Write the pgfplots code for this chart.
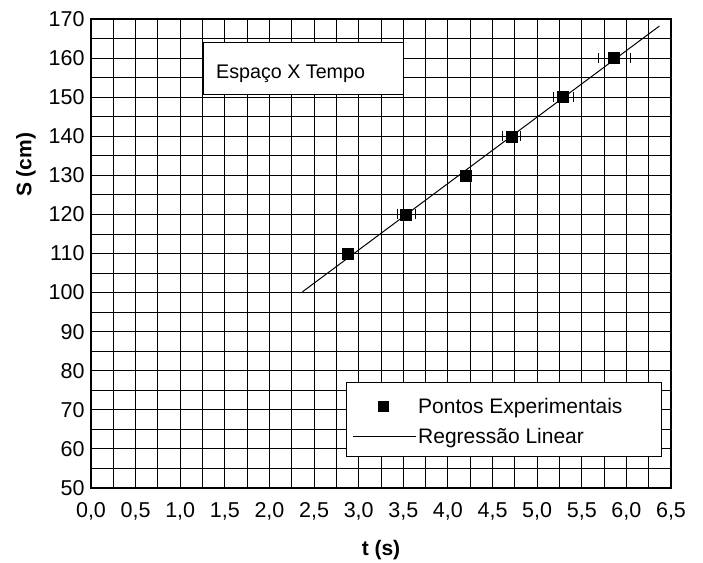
\documentclass[border=0pt]{standalone}
\usepackage{pgfplots}
\pgfplotsset{compat=1.18}
\usepackage{fontspec}
\setmainfont{Liberation Sans}
\begin{document}
\begin{tikzpicture}
\begin{axis}[
  scale only axis, width=580pt, height=469pt,
  xmin=0, xmax=6.5, ymin=50, ymax=170,
  xtick={0,0.5,...,6.5}, ytick={50,60,...,170},
  minor x tick num=1, minor y tick num=1,
  grid=both,
  major grid style={black, line width=0.9pt},
  minor grid style={black, line width=0.9pt},
  axis line style={line width=1.5pt},
  tick pos=left, tick align=inside,
  major tick length=8pt, minor tick length=0pt,
  tick style={black, line width=1pt},
  xticklabel={\fontsize{21.5}{25}\selectfont\pgfmathprintnumber[assume math mode=true,fixed,fixed zerofill,precision=1,use comma]{\tick}},
  yticklabel={\fontsize{21.5}{25}\selectfont\pgfmathprintnumber[assume math mode=true,fixed,precision=0]{\tick}},
  xticklabel style={yshift=-11pt},
  yticklabel style={xshift=-3pt},
  xlabel={\textbf{t (s)}}, ylabel={\textbf{S (cm)}},
  label style={font=\fontsize{21}{25}\selectfont},
  xlabel style={at={(rel axis cs:0.5,-0.132)}, anchor=center},
  ylabel style={at={(rel axis cs:-0.112,0.689)}, anchor=center},
  legend cell align=left,
  legend style={at={(rel axis cs:0.45,0.196)}, anchor=north west, inner sep=0pt, row sep=9pt, draw=none, fill=none, font=\fontsize{21}{25}\selectfont},
]
\draw[fill=white, line width=1pt] (axis cs:1.265,150.6) rectangle (axis cs:3.505,164.1);
\node[anchor=base west, inner sep=0pt, font=\fontsize{19.7}{24}\selectfont] at (axis cs:1.40,154.7) {Espaço X Tempo};
\draw[fill=white, line width=1pt] (axis cs:2.867,58.0) rectangle (axis cs:6.394,76.9);
\addplot[only marks, mark=square*, mark size=5.5pt, black,
  legend image code/.code={\path[draw=none, fill=none] (0pt,0pt) -- (63pt,0pt); \path[draw=none, fill=black] (25pt,-5.5pt) rectangle (36pt,5.5pt);},
  error bars/.cd, x dir=both, x explicit,
  error mark options={black, mark size=5pt, line width=0.6pt, rotate=90},
  error bar style={black, line width=0.6pt}]
  coordinates {
  (2.88,110) +- (0.05,0)
  (3.53,120) +- (0.10,0)
  (4.20,130) +- (0.06,0)
  (4.71,140) +- (0.10,0)
  (5.29,150) +- (0.11,0)
  (5.86,160) +- (0.18,0)
};
\addlegendentry{Pontos Experimentais}
\addplot[black, line width=1pt, legend image code/.code={\draw[black, line width=1pt] (0pt,0pt) -- (63pt,0pt);}] coordinates {(2.37,100.2) (6.37,168.2)};
\addlegendentry{Regressão Linear}
\end{axis}
\pgfresetboundingbox
\path (-91pt,-74pt) rectangle (612pt,488pt);
\end{tikzpicture}
\end{document}
